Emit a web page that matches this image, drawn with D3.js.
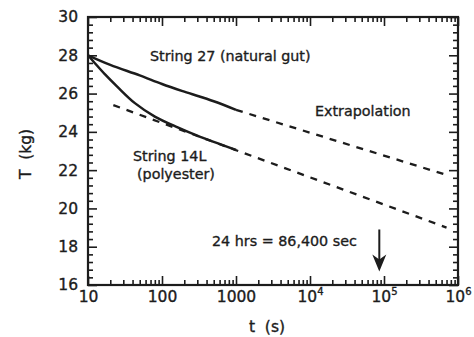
<!DOCTYPE html>
<html>
<head>
<meta charset="utf-8">
<script src="https://cdn.jsdelivr.net/npm/d3@7"></script>
<style>
  body { margin: 0; background: #fff; }
  text { font-family: "DejaVu Sans", sans-serif; fill: #1c1c1c; stroke: #1c1c1c; stroke-width: 0.35px; }
</style>
</head>
<body>
<div id="chart"></div>
<script>
const width = 474, height = 337;

// tick values
const xTicks = [10, 100, 1000, 1e4, 1e5, 1e6];
const xTickLabels = ["10", "100", "1000", "10^4", "10^5", "10^6"];
const yTicks = [16, 18, 20, 22, 24, 26, 28, 30];

// String 27 (natural gut), measured
const gutT = [10, 20, 50, 100, 200, 500, 1000];
const gutTension = [28.0, 27.5, 26.95, 26.5, 26.1, 25.6, 25.15];
// String 27 extrapolation
const gutExtT = [1000, 700000];
const gutExtTension = [25.15, 21.75];

// String 14L (polyester), measured
const polyT = [10, 12, 17, 25, 43, 80, 166, 300, 1000];
const polyTension = [28.0, 27.65, 27.0, 26.35, 25.5, 24.8, 24.22, 23.8, 23.05];
// String 14L extrapolation (straight line in log t)
const polyExtT = [22, 700000];
const polyExtTension = [25.4, 19.0];

// 24 hrs marker
const dayT = 86400;
const arrowTension = [18.9, 16.7];

const plot = {left: 88, right: 458, top: 17, bottom: 285};

const svg = d3.select("#chart").append("svg")
  .attr("width", width)
  .attr("height", height);

const x = d3.scaleLog().domain([10, 1e6]).range([plot.left, plot.right]);
const y = d3.scaleLinear().domain([16, 30]).range([plot.bottom, plot.top]);

// minor ticks
const xMinor = [];
for (let d = 1; d < 6; d++) {
  for (let k = 2; k <= 9; k++) xMinor.push(k * Math.pow(10, d));
}
const yMinor = d3.range(16, 30.001, 0.4).filter(v => Math.abs(v / 2 - Math.round(v / 2)) > 1e-6);

const majorLen = 9, minorLen = 5;

function noDomain(g) { g.select(".domain").remove(); }

// bottom axis
svg.append("g")
  .attr("transform", `translate(0,${plot.bottom})`)
  .call(d3.axisBottom(x).tickValues(xMinor).tickSize(-minorLen).tickFormat(""))
  .call(noDomain);
const xAxis = svg.append("g")
  .attr("transform", `translate(0,${plot.bottom})`)
  .call(d3.axisBottom(x).tickValues(xTicks).tickSize(-majorLen).tickPadding(17)
    .tickFormat((d, i) => xTickLabels[i]))
  .call(noDomain);
xAxis.selectAll("text")
  .attr("font-size", 15.5)
  .attr("font-family", "DejaVu Sans")
  .attr("dy", null)
  .each(function(d, i) {
    const parts = xTickLabels[i].split("^");
    const t = d3.select(this).text(null);
    t.append("tspan").text(parts[0]);
    if (parts[1]) t.append("tspan").attr("font-size", 10).attr("dy", -7).text(parts[1]);
  });

// top axis (mirror)
svg.append("g")
  .attr("transform", `translate(0,${plot.top})`)
  .call(d3.axisTop(x).tickValues(xMinor).tickSize(-minorLen).tickFormat(""))
  .call(noDomain);
svg.append("g")
  .attr("transform", `translate(0,${plot.top})`)
  .call(d3.axisTop(x).tickValues(xTicks).tickSize(-majorLen).tickFormat(""))
  .call(noDomain);

// left axis
svg.append("g")
  .attr("transform", `translate(${plot.left},0)`)
  .call(d3.axisLeft(y).tickValues(yMinor).tickSize(-minorLen).tickFormat(""))
  .call(noDomain);
svg.append("g")
  .attr("transform", `translate(${plot.left},0)`)
  .call(d3.axisLeft(y).tickValues(yTicks).tickSize(-majorLen).tickPadding(10).tickFormat(d3.format("d")))
  .call(noDomain)
  .selectAll("text")
  .attr("font-size", 15.5)
  .attr("font-family", "DejaVu Sans");

// right axis (mirror)
svg.append("g")
  .attr("transform", `translate(${plot.right},0)`)
  .call(d3.axisRight(y).tickValues(yMinor).tickSize(-minorLen).tickFormat(""))
  .call(noDomain);
svg.append("g")
  .attr("transform", `translate(${plot.right},0)`)
  .call(d3.axisRight(y).tickValues(yTicks).tickSize(-majorLen).tickFormat(""))
  .call(noDomain);

svg.selectAll(".tick line").attr("stroke", "#1c1c1c").attr("stroke-width", 1.6);

// frame
svg.append("rect")
  .attr("x", plot.left).attr("y", plot.top)
  .attr("width", plot.right - plot.left).attr("height", plot.bottom - plot.top)
  .attr("fill", "none").attr("stroke", "#1c1c1c").attr("stroke-width", 2.2);

// curves
const zip = (a, b) => a.map((v, i) => [v, b[i]]);
const line = d3.line().x(d => x(d[0])).y(d => y(d[1]));
const smooth = d3.line().x(d => x(d[0])).y(d => y(d[1])).curve(d3.curveCatmullRom);

const dash = "7,7";
svg.append("path").datum(zip(gutExtT, gutExtTension))
  .attr("d", line).attr("fill", "none").attr("stroke", "#1c1c1c")
  .attr("stroke-width", 2.3).attr("stroke-dasharray", dash);
svg.append("path").datum(zip(polyExtT, polyExtTension))
  .attr("d", line).attr("fill", "none").attr("stroke", "#1c1c1c")
  .attr("stroke-width", 2.3).attr("stroke-dasharray", dash);

svg.append("path").datum(zip(gutT, gutTension))
  .attr("d", smooth).attr("fill", "none").attr("stroke", "#1c1c1c").attr("stroke-width", 2.5);
svg.append("path").datum(zip(polyT, polyTension))
  .attr("d", smooth).attr("fill", "none").attr("stroke", "#1c1c1c").attr("stroke-width", 2.5);

// 24 hr arrow
const ax = x(dayT);
const tipY = y(arrowTension[1]);
svg.append("line")
  .attr("x1", ax).attr("x2", ax)
  .attr("y1", y(arrowTension[0])).attr("y2", tipY - 8)
  .attr("stroke", "#1c1c1c").attr("stroke-width", 2);
svg.append("path")
  .attr("d", `M${ax},${tipY} L${ax - 7},${tipY - 17} L${ax},${tipY - 12} L${ax + 7},${tipY - 17} Z`)
  .attr("fill", "#1c1c1c");

// annotations
const notes = [
  {text: "String 27 (natural gut)", x: 150, y: 61},
  {text: "Extrapolation", x: 315, y: 116},
  {text: "String 14L", x: 133, y: 161},
  {text: "(polyester)", x: 137, y: 179},
  {text: "24 hrs = 86,400 sec", x: 212, y: 246}
];
svg.append("g").selectAll("text").data(notes).join("text")
  .attr("x", d => d.x).attr("y", d => d.y)
  .attr("font-size", 14.3)
  .text(d => d.text);

// axis titles
svg.append("text")
  .attr("transform", `translate(31,${(plot.top + plot.bottom) / 2 + 3}) rotate(-90)`)
  .attr("text-anchor", "middle")
  .attr("font-size", 15.5)
  .attr("xml:space", "preserve")
  .text("T  (kg)");
svg.append("text")
  .attr("x", (plot.left + plot.right) / 2 - 6).attr("y", 332)
  .attr("text-anchor", "middle")
  .attr("font-size", 15.5)
  .attr("xml:space", "preserve")
  .text("t  (s)");
</script>
</body>
</html>
